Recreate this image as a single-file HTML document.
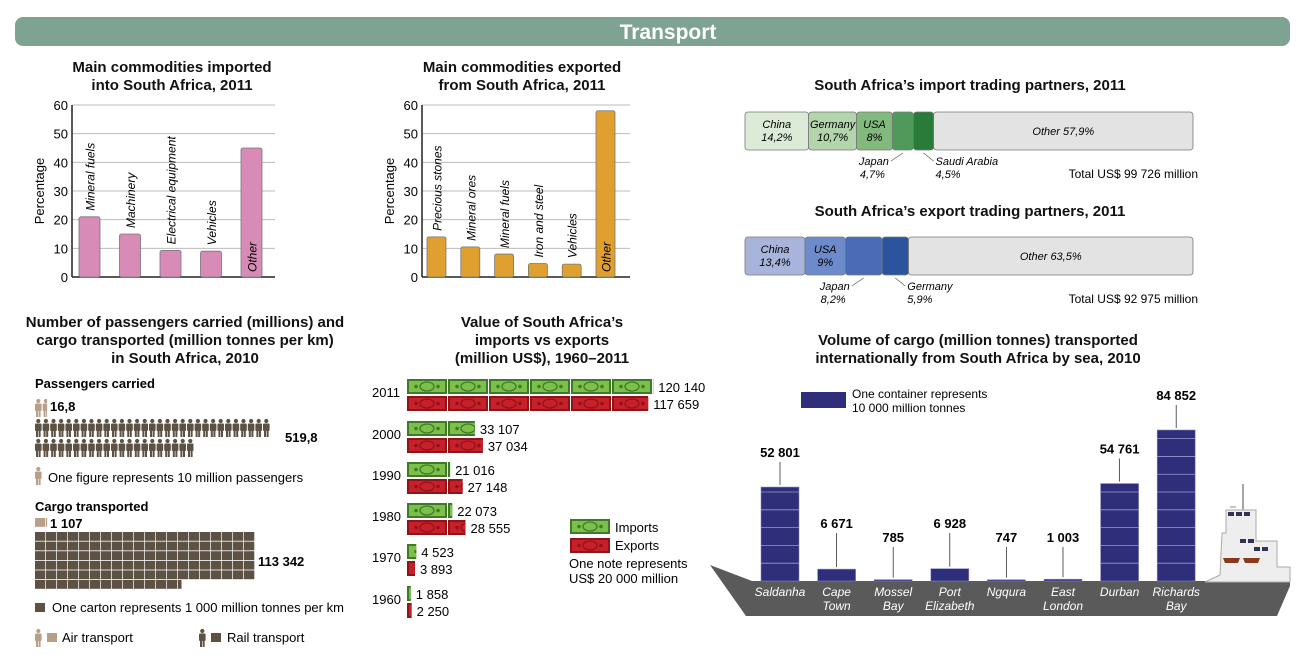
<!DOCTYPE html>
<html><head><meta charset="utf-8"><style>
html,body{margin:0;padding:0;background:#fff}
svg{display:block;font-family:"Liberation Sans",sans-serif}
.t{font-weight:bold;font-size:15px;fill:#111;text-anchor:middle}
.it{font-style:italic}
</style></head><body>
<svg id="s" width="1300" height="658" viewBox="0 0 1300 658" xmlns="http://www.w3.org/2000/svg">
<rect x="15" y="17" width="1275" height="29" rx="8" fill="#7fa393"/>
<text x="668" y="39" fill="#fff" font-size="21" font-weight="bold" text-anchor="middle">Transport</text>

<text class="t" x="172" y="72">Main commodities imported</text>
<text class="t" x="172" y="90">into South Africa, 2011</text>
<text class="t" x="522" y="72">Main commodities exported</text>
<text class="t" x="522" y="90">from South Africa, 2011</text>
<text class="t" x="970" y="90">South Africa’s import trading partners, 2011</text>
<text class="t" x="970" y="216">South Africa’s export trading partners, 2011</text>
<text x="1198" y="178" font-size="12" text-anchor="end">Total US$ 99 726 million</text>
<text x="1198" y="303" font-size="12" text-anchor="end">Total US$ 92 975 million</text>

<text class="t" x="185" y="327">Number of passengers carried (millions) and</text>
<text class="t" x="185" y="345">cargo transported (million tonnes per km)</text>
<text class="t" x="185" y="363">in South Africa, 2010</text>
<text x="35" y="388" font-size="13" font-weight="bold">Passengers carried</text>
<text x="35" y="511" font-size="13" font-weight="bold">Cargo transported</text>

<text class="t" x="542" y="327">Value of South Africa’s</text>
<text class="t" x="542" y="345">imports vs exports</text>
<text class="t" x="542" y="363">(million US$), 1960–2011</text>

<text class="t" x="978" y="345">Volume of cargo (million tonnes) transported</text>
<text class="t" x="978" y="363">internationally from South Africa by sea, 2010</text>
<g id="g"></g>
</svg>
<script>
const impCats=["Mineral fuels","Machinery","Electrical equipment","Vehicles","Other"];
const impVals=[21,15,9.3,9,45];
const expCats=["Precious stones","Mineral ores","Mineral fuels","Iron and steel","Vehicles","Other"];
const expVals=[14,10.5,8,4.7,4.5,58];
const yTicks=[0,10,20,30,40,50,60];
const ipNames=["China","Germany","USA","Japan","Saudi Arabia","Other"];
const ipVals=[14.2,10.7,8,4.7,4.5,57.9];
const ipLabels=["14,2%","10,7%","8%","4,7%","4,5%","57,9%"];
const epNames=["China","USA","Japan","Germany","Other"];
const epVals=[13.4,9,8.2,5.9,63.5];
const epLabels=["13,4%","9%","8,2%","5,9%","63,5%"];
const paxAir=16.8, paxRail=519.8;
const cargoAir=1107, cargoRail=113342;
const years=["2011","2000","1990","1980","1970","1960"];
const imports=[120140,33107,21016,22073,4523,1858];
const exportsV=[117659,37034,27148,28555,3893,2250];
const ports=["Saldanha","Cape|Town","Mossel|Bay","Port|Elizabeth","Ngqura","East|London","Durban","Richards|Bay"];
const portVals=[52801,6671,785,6928,747,1003,54761,84852];
const portLabels=["52 801","6 671","785","6 928","747","1 003","54 761","84 852"];
const fmt=v=>String(v).replace(/\B(?=(\d{3})+(?!\d))/g," ");

const NS="http://www.w3.org/2000/svg",G=document.getElementById("g");
function el(t,a,txt){const e=document.createElementNS(NS,t);for(const k in a)e.setAttribute(k,a[k]);if(txt!=null)e.textContent=txt;G.appendChild(e);return e;}

function barChart(ax,x1,cats,vals,col,x0,step,bw,pre){
  const y=v=>277-v*172/60;
  yTicks.forEach(t=>{
    let l=el("line",{x1:ax,x2:x1,y1:y(t),y2:y(t),stroke:t?"#bbb":"#222","stroke-width":t?1:1.5});
    
    let tx=el("text",{x:ax-4,y:y(t)+5,"font-size":13,"text-anchor":"end"},t);
    
  });
  let a=el("line",{x1:ax,x2:ax,y1:y(60),y2:277,stroke:"#222","stroke-width":1.5});
  
  let yt=el("text",{transform:`translate(${ax-28},191) rotate(-90)`,"font-size":13,"text-anchor":"middle"},"Percentage");
  
  vals.forEach((v,i)=>{
    const bx=x0+i*step;
    let r=el("rect",{x:bx,y:y(v),width:bw,height:277-y(v),fill:col,stroke:"#777","stroke-width":0.8,rx:2});
    
    const other=i==vals.length-1;
    const ly=other?272:y(v)-6;
    let t=el("text",{transform:`translate(${bx+bw/2+5},${ly}) rotate(-90)`,"font-size":12,"font-style":"italic"},cats[i]);
    
  });
}
barChart(72,275,impCats,impVals,"#d98bb7",79,40.5,21,"import");
barChart(422,630,expCats,expVals,"#e0a030",427,33.8,19,"export");

function stack(y0,vals,names,labs,cols,smallIdx){
  const X0=745,W=448;let x=X0;
  vals.forEach((v,i)=>{
    const w=v/100*W;
    let r=el("rect",{x:x,y:y0,width:w,height:38,rx:3,fill:cols[i],stroke:"#777","stroke-width":0.8});
    
    if(smallIdx.includes(i)){
      const cx=x+w/2, left=smallIdx.indexOf(i)==0;
      let l=el("line",{x1:cx,y1:y0+41,x2:left?cx-12:cx+10,y2:y0+49,stroke:"#555","stroke-width":0.7});
      
      const tx=left?cx-14:cx+12;
      let t=el("text",{x:tx,y:y0+53,"font-size":11,"font-style":"italic","text-anchor":left?"end":"start"},names[i]);
      
      let t2=el("text",{x:left?tx-4:tx,y:y0+66,"font-size":11,"font-style":"italic","text-anchor":left?"end":"start"},labs[i]);
      
    } else if(names[i]=="Other"){
      let t=el("text",{x:x+w/2,y:y0+23,"font-size":11,"font-style":"italic","text-anchor":"middle"},"Other "+labs[i]);
      
    } else {
      let t=el("text",{x:x+w/2,y:y0+16,"font-size":11,"font-style":"italic","text-anchor":"middle"},names[i]);
      
      let t2=el("text",{x:x+w/2,y:y0+29,"font-size":11,"font-style":"italic","text-anchor":"middle"},labs[i]);
      
    }
    x+=w;
  });
}
stack(112,ipVals,ipNames,ipLabels,["#dcebd8","#b3d5ac","#82ba7d","#4f9a5b","#2a7a3a","#e3e3e3"],[3,4]);
stack(237,epVals,epNames,epLabels,["#a9b4dc","#6d8bca","#4a6bb5","#2a559e","#e3e3e3"],[2,3]);

function person(x,y,c,frac){
  const g=document.createElementNS(NS,"g");G.appendChild(g);
  g.setAttribute("fill",c);
  g.innerHTML=`<circle cx="${x+3.3}" cy="${y+2}" r="2.1"/><rect x="${x}" y="${y+4.5}" width="6.6" height="7.5" rx="1"/><rect x="${x+1}" y="${y+11}" width="2" height="7"/><rect x="${x+3.6}" y="${y+11}" width="2" height="7"/>`;
  if(frac<1)g.setAttribute("clip-path",`inset(0 ${(1-frac)*100}% 0 0)`);
  return g;
}
function people(val,x0,y0,c,perRow,name){
  const n=val/10;
  for(let i=0;i<Math.ceil(n);i++){
    const r=Math.floor(i/perRow),cI=i%perRow;
    let g=person(x0+cI*7.6,y0+r*20,c,Math.min(1,n-i));
    
  }
}
people(paxAir,35,399,"#b8a088",31,"air-passenger-figure");
people(paxRail,35,419,"#5d5144",31,"rail-passenger-figure");
let tp=el("text",{x:50,y:411,"font-size":13,"font-weight":"bold"},"16,8");
tp=el("text",{x:285,y:442,"font-size":13,"font-weight":"bold"},"519,8");
let lp=person(35,467,"#b8a088",1);
tp=el("text",{x:48,y:482,"font-size":13},"One figure represents 10 million passengers");

function cartons(val,x0,y0,c,name){
  const n=val/1000;
  for(let i=0;i<Math.ceil(n);i++){
    const r=Math.floor(i/20),ci=i%20,f=Math.min(1,n-i);
    let e=el("rect",{x:x0+ci*11,y:y0+r*9.6,width:10.3*f,height:8.8,fill:c});
    
  }
}
cartons(cargoAir,35,518,"#b8a088","air-cargo-carton");
cartons(cargoRail,35,532,"#5d5144","rail-cargo-carton");
tp=el("text",{x:50,y:528,"font-size":13,"font-weight":"bold"},fmt(cargoAir));
tp=el("text",{x:258,y:566,"font-size":13,"font-weight":"bold"},fmt(cargoRail));
tp=el("rect",{x:35,y:603,width:10,height:9,fill:"#5d5144"});
tp=el("text",{x:52,y:612,"font-size":13},"One carton represents 1 000 million tonnes per km");
lp=person(35,629,"#b8a088",1);
tp=el("rect",{x:47,y:633,width:10,height:9,fill:"#b8a088"});
tp=el("text",{x:62,y:642,"font-size":13},"Air transport");
lp=person(199,629,"#5d5144",1);
tp=el("rect",{x:211,y:633,width:10,height:9,fill:"#5d5144"});
tp=el("text",{x:227,y:642,"font-size":13},"Rail transport");

const noteW=41;
function note(x,y,fill,edge,frac,name){
  const g=document.createElementNS(NS,"g");G.appendChild(g);
  const w=noteW-1;
  g.innerHTML=`<rect x="${x}" y="${y}" width="${w}" height="15" fill="${edge}"/><rect x="${x+2}" y="${y+2}" width="${w-4}" height="11" fill="${fill}"/><ellipse cx="${x+w/2}" cy="${y+7.5}" rx="7" ry="4.5" fill="none" stroke="${edge}" stroke-width="1.3"/><circle cx="${x+9}" cy="${y+7.5}" r="1.8" fill="${edge}"/><circle cx="${x+w-9}" cy="${y+7.5}" r="1.8" fill="${edge}"/>`;
  g.setAttribute("clip-path",`polygon(0 0, ${frac*noteW}px 0, ${frac*noteW}px 100%, 0 100%)`);
  
  return g;
}
const rowY=[379,421,462,503,544,586];
years.forEach((yr,i)=>{
  let t=el("text",{x:372,y:rowY[i]+18,"font-size":13},yr);
  [[imports[i],0,"#7cc04a","#3f7a2a","import-note"],[exportsV[i],17,"#c8202a","#8e1418","export-note"]].forEach(([v,dy,f,e,nm])=>{
    const n=v/20000;let x=407;
    for(let k=0;k<Math.ceil(n);k++){
      const fr=Math.min(1,n-k);
      const g=note(0,0,f,e,fr,nm);
      g.setAttribute("transform",`translate(${x+k*noteW},${rowY[i]+dy})`);
      
    }
    let tv=el("text",{x:407+n*noteW+5,y:rowY[i]+dy+13,"font-size":13},fmt(v));
    
  });
});
let ln=note(0,0,"#7cc04a","#3f7a2a",1,"imports-legend-note");ln.setAttribute("transform","translate(570,519)");
ln=note(0,0,"#c8202a","#8e1418",1,"exports-legend-note");ln.setAttribute("transform","translate(570,538)");
tp=el("text",{x:615,y:532,"font-size":13},"Imports");
tp=el("text",{x:615,y:550,"font-size":13},"Exports");
tp=el("text",{x:569,y:568,"font-size":13},"One note represents");
tp=el("text",{x:569,y:583,"font-size":13},"US$ 20 000 million");

let hull=el("path",{d:"M710,565 L752,581 L1215,581 L1290,582 L1290,586 L1277,616 L746,616 Z",fill:"#5a5a5a"});

const sup=document.createElementNS(NS,"g");G.appendChild(sup);

sup.innerHTML=`<line x1="1243" y1="484" x2="1243" y2="510" stroke="#888" stroke-width="1.5"/><line x1="1230" y1="507" x2="1236" y2="507" stroke="#888"/>
<path d="M1226,510 L1256,510 L1256,541 L1277,541 L1277,567 L1290,567 L1290,582 L1205,582 L1220,575 L1222,533 L1226,533 Z" fill="#eee" stroke="#aaa"/>
<rect x="1228" y="512" width="6" height="4" fill="#335"/><rect x="1236" y="512" width="6" height="4" fill="#335"/><rect x="1244" y="512" width="6" height="4" fill="#335"/>
<rect x="1240" y="539" width="6" height="4" fill="#335"/><rect x="1248" y="539" width="6" height="4" fill="#335"/>
<rect x="1254" y="547" width="6" height="4" fill="#335"/><rect x="1262" y="547" width="6" height="4" fill="#335"/>
<path d="M1223,558 L1240,558 L1238,563 L1225,563 Z" fill="#8a3a1a"/><path d="M1243,558 L1260,558 L1258,563 L1245,563 Z" fill="#8a3a1a"/>`;
const baseY=581,pxPer=151/84852,bw=38;
function px(v){return v*pxPer;}
portVals.forEach((v,i)=>{
  const cx=780+i*56.6,h=px(v),top=baseY-h;
  let r=el("rect",{x:cx-bw/2,y:top,width:bw,height:h,fill:"#2e2e7a",stroke:"#8888c0","stroke-width":0.6});
  
  for(let k=10000;k<v;k+=10000){
    let s=el("line",{x1:cx-bw/2,x2:cx+bw/2,y1:baseY-px(k),y2:baseY-px(k),stroke:"#9a9ad0","stroke-width":0.8});
    
  }
  const big=v>20000;
  const ly=big?top-30:Math.min(top-26,556-(v>5000?14:0)-14);
  let l=el("line",{x1:cx,x2:cx,y1:ly+5,y2:top-2,stroke:"#333","stroke-width":0.8});
  
  let t=el("text",{x:cx,y:ly,"font-size":13,"font-weight":"bold","text-anchor":"middle"},portLabels[i]);
  
  const parts=ports[i].split("|");
  parts.forEach((p,j)=>{
    let pt=el("text",{x:cx,y:596+j*14,"font-size":12,"font-style":"italic",fill:"#fff","text-anchor":"middle"},p);
    
  });
});
tp=el("rect",{x:801,y:392,width:45,height:16,fill:"#2e2e7a"});
tp=el("text",{x:852,y:398,"font-size":12},"One container represents");
tp=el("text",{x:852,y:412,"font-size":12},"10 000 million tonnes");
</script>
</body></html>
